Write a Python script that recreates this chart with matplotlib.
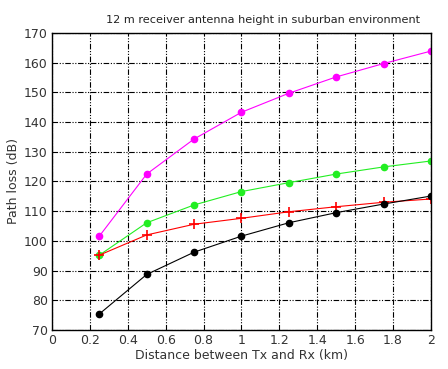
import numpy as np
import matplotlib.pyplot as plt

dist = [0.25, 0.5, 0.75, 1.0, 1.25, 1.5, 1.75, 2.0]
magenta_loss = [101.6, 122.5, 134.3, 143.3, 149.7, 155.2, 159.7, 163.9]
green_loss = [95.2, 106.1, 112.1, 116.6, 119.6, 122.5, 124.9, 126.9]
red_loss = [95.2, 102.0, 105.6, 107.6, 109.8, 111.5, 113.0, 114.1]
black_loss = [75.4, 88.7, 96.2, 101.6, 106.1, 109.5, 112.4, 115.1]

xticks = np.arange(0, 2.01, 0.2)
yticks = np.arange(70, 171, 10)

fig = plt.figure(figsize=(4.48, 3.69), dpi=100)
ax = fig.add_axes([0.116, 0.1057, 0.846, 0.805])

ax.plot(dist, magenta_loss, color='#ff00ff', lw=0.8, marker='o', ms=4.5)
ax.plot(dist, green_loss, color='#22ee22', lw=0.8, marker='o', ms=4.5)
ax.plot(dist, red_loss, color='#ff0000', lw=0.8, marker='+', ms=7, mew=1.2)
ax.plot(dist, black_loss, color='black', lw=0.8, marker='o', ms=4.5)

ax.set_xlim(0, 2)
ax.set_ylim(70, 170)
ax.set_xticks(xticks)
ax.set_xticklabels(['0', '0.2', '0.4', '0.6', '0.8', '1', '1.2', '1.4', '1.6', '1.8', '2'])
ax.set_yticks(yticks)
ax.grid(True, color='black', linestyle=(0, (5, 1.5, 1, 1.5, 1, 1.5)), linewidth=0.8)
ax.tick_params(direction='in', length=0, labelsize=9, colors='#333333', pad=3)
for s in ax.spines.values():
    s.set_linewidth(1.0)

ax.set_xlabel('Distance between Tx and Rx (km)', fontsize=9, color='#333333', labelpad=1)
ax.set_ylabel('Path loss (dB)', fontsize=9, color='#333333', labelpad=3)
fig.text(0.587, 0.945, '12 m receiver antenna height in suburban environment',
         ha='center', va='center', fontsize=8.1, color='#222222')

fig.savefig('out.png', dpi=100)
